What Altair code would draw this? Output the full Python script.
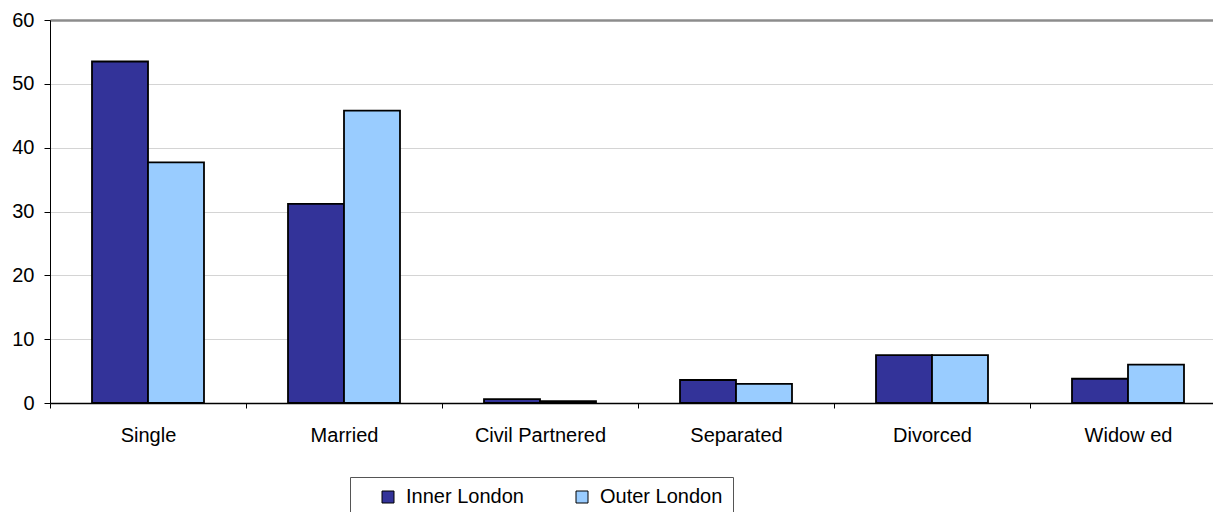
import altair as alt
import pandas as pd

categories = ["Single", "Married", "Civil Partnered", "Separated", "Divorced", "Widow ed"]
inner_london = [53.5, 31.2, 0.6, 3.6, 7.5, 3.8]
outer_london = [37.7, 45.8, 0.3, 3.0, 7.5, 6.0]
series = ["Inner London", "Outer London"]
colors = ["#333399", "#99CCFF"]
y_ticks = [0, 10, 20, 30, 40, 50, 60]

rows = []
for c, a, b in zip(categories, inner_london, outer_london):
    rows.append({"category": c, "series": series[0], "value": a})
    rows.append({"category": c, "series": series[1], "value": b})
df = pd.DataFrame(rows)

FONT = "Liberation Sans"

chart = alt.Chart(df).mark_bar(stroke="black", strokeWidth=1.8).encode(
    x=alt.X(
        "category:N", sort=categories, title=None,
        scale=alt.Scale(range=[0, 1176], paddingInner=0.4286, paddingOuter=0.2143),
        axis=alt.Axis(
            labelAngle=0, tickSize=5, tickOffset=-98, labelOffset=98,
            labelPadding=17, domainColor="black", domainWidth=1.5,
            tickColor="black", labelFontSize=20, labelColor="black",
            labelFont=FONT, grid=False,
        ),
    ),
    xOffset=alt.XOffset("series:N", sort=series),
    y=alt.Y(
        "value:Q", title=None,
        scale=alt.Scale(domain=[0, 60], nice=False),
        axis=alt.Axis(
            values=y_ticks, tickSize=6, labelPadding=10, domainColor="black",
            tickColor="black", labelFontSize=20, labelColor="black", labelFont=FONT,
            grid=True,
            gridColor={"condition": {"test": "datum.value === 60", "value": "#8c8c8c"}, "value": "#d4d4d4"},
            gridWidth={"condition": {"test": "datum.value === 60", "value": 2.5}, "value": 1},
        ),
    ),
    color=alt.Color(
        "series:N", sort=series,
        scale=alt.Scale(domain=series, range=colors),
        legend=alt.Legend(
            orient="none", legendX=300, legendY=457, direction="horizontal",
            columns=2, title=None, symbolType="square", symbolSize=144,
            symbolStrokeColor="black", symbolStrokeWidth=1,
            labelFontSize=20, labelFont=FONT, labelColor="black", labelOffset=8,
            columnPadding=30, padding=10, strokeColor="#555555", fillColor="white",
            symbolOffset=18,
        ),
    ),
).properties(
    width=1163, height=383,
    autosize=alt.AutoSizeParams(type="none"),
    padding={"left": 50, "top": 20, "right": 0, "bottom": 109},
).configure_view(stroke=None).configure(font=FONT, background="white")

chart.save("out.html", embed_options={"renderer": "svg", "actions": False})
